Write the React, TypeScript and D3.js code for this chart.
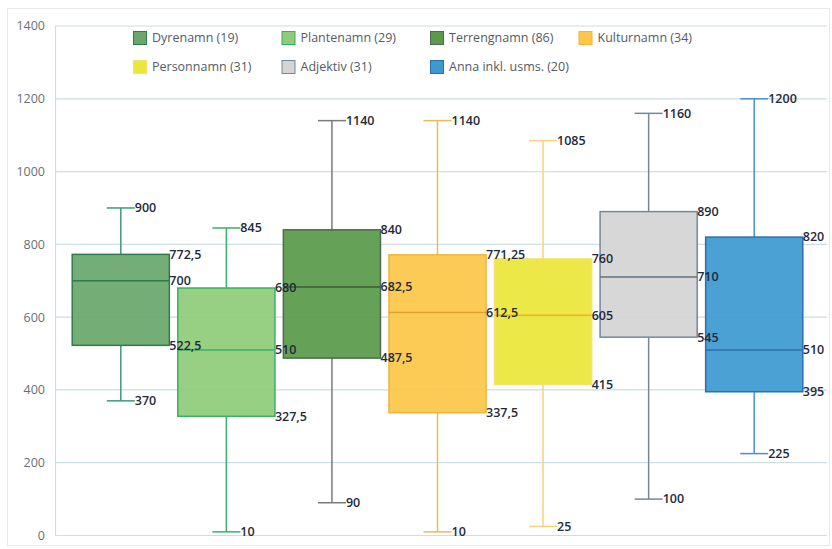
import * as d3 from "d3";
import * as React from "react";

const categories = ["Dyrenamn (19)", "Plantenamn (29)", "Terrengnamn (86)", "Kulturnamn (34)", "Personnamn (31)", "Adjektiv (31)", "Anna inkl. usms. (20)"];
const minValues = [370, 10, 90, 10, 25, 100, 225];
const q1Values = [522.5, 327.5, 487.5, 337.5, 415, 545, 395];
const medianValues = [700, 510, 682.5, 612.5, 605, 710, 510];
const q3Values = [772.5, 680, 840, 771.25, 760, 890, 820];
const maxValues = [900, 845, 1140, 1140, 1085, 1160, 1200];
const yTicks = [0, 200, 400, 600, 800, 1000, 1200, 1400];

const fills = ["#6aa76c", "#8fcb7a", "#5a9a4b", "#fcc748", "#ebe63a", "#d4d4d4", "#3d9ad1"];
const strokes = ["#2f7a4e", "#3aae6a", "#4d6b4d", "#f0b440", "#f5e070", "#74889a", "#2c6fab"];
const whiskerColours = ["#3f9a78", "#3aae6a", "#7a7a7a", "#ebb95c", "#fcd27c", "#74889a", "#4b91d0"];
const medianColours = ["#2f7a4e", "#3aae6a", "#3f5a3a", "#e0a030", "#f5b020", "#607080", "#2c6fab"];

const fmt = (v: number) => String(v).replace(".", ",");

export default function App(): JSX.Element {
    const width = 832;
    const height = 549;
    const font = "'Open Sans', 'Liberation Sans', sans-serif";

    const y = d3.scaleLinear().domain([0, 1400]).range([535.5, 26]);
    const x = d3.scaleBand<number>()
        .domain(d3.range(categories.length))
        .range([68, 807])
        .paddingInner(0.08)
        .paddingOuter(0.04);
    const bw = x.bandwidth();
    const cap = 14;

    const legendX = (i: number) => 133 + (i % 4) * 148.5;
    const legendY = (i: number) => 38 + Math.floor(i / 4) * 29;

    const labelStyle = { fontFamily: font, fontSize: 12.5, fontWeight: 600, fill: "#1f2a38" } as const;

    return (
        <svg width={width} height={height} style={{ position: "absolute", left: 0, top: 0, background: "#fff" }}>
            <rect x={7.5} y={8.5} width={822} height={537} fill="none" stroke="#e6eaec" />
            {yTicks.map(t => (
                <g key={t}>
                    <line x1={55} x2={827} y1={y(t)} y2={y(t)} stroke="#cddde4" strokeWidth={1.2} />
                    <text x={45} y={y(t)} dy="0.35em" textAnchor="end" fontFamily={font} fontSize={12.5} fill="#6a6f74">{t}</text>
                </g>
            ))}
            <line x1={55.5} x2={55.5} y1={y(0)} y2={y(1400)} stroke="#cddde4" strokeWidth={1.2} />

            {categories.map((c, i) => {
                const x0 = x(i)!;
                const cx = x0 + bw / 2;
                return (
                    <g key={c}>
                        <line x1={cx} x2={cx} y1={y(maxValues[i])} y2={y(q3Values[i])} stroke={whiskerColours[i]} strokeWidth={1.5} />
                        <line x1={cx} x2={cx} y1={y(q1Values[i])} y2={y(minValues[i])} stroke={whiskerColours[i]} strokeWidth={1.5} />
                        <line x1={cx - cap} x2={cx + cap} y1={y(maxValues[i])} y2={y(maxValues[i])} stroke={whiskerColours[i]} strokeWidth={1.5} />
                        <line x1={cx - cap} x2={cx + cap} y1={y(minValues[i])} y2={y(minValues[i])} stroke={whiskerColours[i]} strokeWidth={1.5} />
                        <rect x={x0} y={y(q3Values[i])} width={bw} height={y(q1Values[i]) - y(q3Values[i])}
                            fill={fills[i]} fillOpacity={0.93} stroke={strokes[i]} strokeWidth={1.5} />
                        <line x1={x0} x2={x0 + bw} y1={y(medianValues[i])} y2={y(medianValues[i])} stroke={medianColours[i]} strokeWidth={1.5} />
                    </g>
                );
            })}

            {categories.map((c, i) => {
                const x0 = x(i)!;
                const cx = x0 + bw / 2;
                return (
                    <g key={"lb" + c}>
                        <text x={cx + cap} y={y(maxValues[i])} dy="0.35em" {...labelStyle}>{fmt(maxValues[i])}</text>
                        <text x={cx + cap} y={y(minValues[i])} dy="0.35em" {...labelStyle}>{fmt(minValues[i])}</text>
                        <text x={x0 + bw} y={y(q3Values[i])} dy="0.35em" {...labelStyle}>{fmt(q3Values[i])}</text>
                        <text x={x0 + bw} y={y(medianValues[i])} dy="0.35em" {...labelStyle}>{fmt(medianValues[i])}</text>
                        <text x={x0 + bw} y={y(q1Values[i])} dy="0.35em" {...labelStyle}>{fmt(q1Values[i])}</text>
                    </g>
                );
            })}

            {categories.map((c, i) => (
                <g key={"lg" + c} transform={`translate(${legendX(i)},${legendY(i)})`}>
                    <rect x={0.5} y={-6.5} width={13} height={13} fill={fills[i]} stroke={strokes[i]} strokeWidth={1} />
                    <text x={19} y={0} dy="0.35em" fontFamily={font} fontSize={12.5} fontWeight={500} fill="#555b62">{c}</text>
                </g>
            ))}
        </svg>
    );
}
